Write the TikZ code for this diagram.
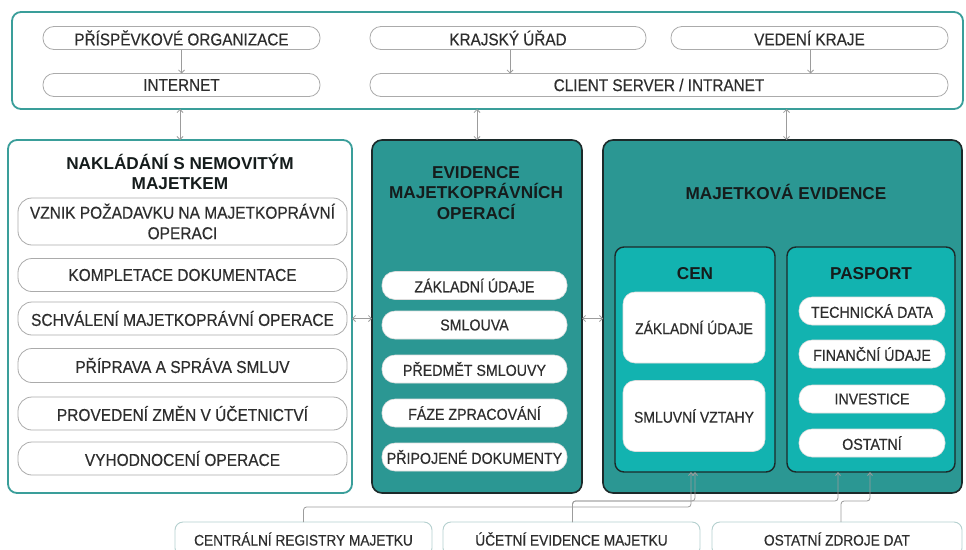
\documentclass[tikz,border=0pt]{standalone}
\usepackage{fontspec}
\setmainfont{Liberation Sans}[FakeStretch=0.9, FakeBold=0.4]
\newfontfamily\titlefont{Liberation Sans}
\usetikzlibrary{arrows.meta}
\definecolor{tealline}{HTML}{3A9E9A}
\definecolor{midteal}{HTML}{2B9793}
\definecolor{cyanteal}{HTML}{12B3B0}
\definecolor{darkline}{HTML}{1C2A2A}
\definecolor{pillgray}{HTML}{ABABAB}
\definecolor{srcline}{HTML}{B5D0CF}
\definecolor{txt}{HTML}{2E2E2E}
\definecolor{titletxt}{HTML}{151C1C}
\definecolor{arrgray}{HTML}{9C9C9C}
\begin{document}
\begin{tikzpicture}[x=1pt,y=-1pt,
  every node/.style={inner sep=0pt, outer sep=0pt},
  container/.style={draw=tealline, line width=1.8pt, rounded corners=9pt, fill=white},
  darkbox/.style={draw=darkline, line width=1.6pt, rounded corners=10pt, fill=midteal},
  subbox/.style={draw=darkline, line width=1.4pt, rounded corners=9pt, fill=cyanteal},
  toppill/.style={draw=pillgray, line width=0.8pt, rounded corners=11pt, fill=white, text=txt, font=\fontsize{17}{19}\selectfont, minimum height=23pt},
  leftpill/.style={draw=pillgray, line width=0.8pt, rounded corners=14pt, fill=white, text=txt, align=center, font=\fontsize{17.2}{20.5}\selectfont, minimum width=329pt},
  wpill/.style={draw=pillgray!40, line width=0.6pt, rounded corners=13pt, fill=white, text=txt, font=\fontsize{15.8}{18}\selectfont, minimum height=28pt},
  wbox/.style={draw=pillgray!40, line width=0.6pt, rounded corners=12pt, fill=white, text=txt, font=\fontsize{15.5}{18}\selectfont, minimum width=142pt, minimum height=71pt},
  srcbox/.style={draw=srcline, line width=0.9pt, rounded corners=8pt, fill=white, text=txt, font=\fontsize{15.2}{17}\selectfont, minimum height=34pt},
  boxtitle/.style={font=\titlefont\bfseries\fontsize{17.2}{20.5}\selectfont, text=titletxt, align=center},
  arr/.style={draw=arrgray, line width=0.8pt, -{Straight Barb[length=3pt,width=6pt]}},
  darr/.style={draw=arrgray, line width=0.8pt, {Straight Barb[length=3pt,width=6pt]}-{Straight Barb[length=3pt,width=6pt]}},
  bus/.style={draw=arrgray, line width=0.8pt, rounded corners=3pt, -{Straight Barb[length=3pt,width=5pt]}}
]
\useasboundingbox[fill=white] (0,0) rectangle (966,549);

% top container
\node[container, minimum width=951pt, minimum height=97pt] (top) at (487.5,60.5) {};
\node[toppill, minimum width=277pt] (po) at (181.5,38) {PŘÍSPĚVKOVÉ ORGANIZACE};
\node[toppill, minimum width=277pt] (internet) at (181.5,85) {INTERNET};
\node[toppill, minimum width=276pt] (kraj) at (508,38) {KRAJSKÝ ÚŘAD};
\node[toppill, minimum width=277pt] (vedeni) at (809.5,38) {VEDENÍ KRAJE};
\node[toppill, minimum width=578pt] (client) at (659,85) {CLIENT SERVER / INTRANET};

\draw[arr] (po) -- (internet);
\draw[arr] ([xshift=2pt]kraj.south) -- ([xshift=2pt]kraj.south |- client.north);
\draw[arr] ([xshift=1pt]vedeni.south) -- ([xshift=1pt]vedeni.south |- client.north);

% left box
\node[container, minimum width=344pt, minimum height=353pt] (left) at (180,316.5) {};
\node[boxtitle] (lefttitle) at (180,172) {NAKLÁDÁNÍ S NEMOVITÝM\\MAJETKEM};
\node[leftpill, minimum height=47pt] (vznik) at (182.5,221.5) {VZNIK POŽADAVKU NA MAJETKOPRÁVNÍ\\OPERACI};
\node[leftpill, minimum height=33pt] (kompl) at (182.5,275) {KOMPLETACE DOKUMENTACE};
\node[leftpill, minimum height=33pt] (schv) at (182.5,318.5) {SCHVÁLENÍ MAJETKOPRÁVNÍ OPERACE};
\node[leftpill, minimum height=34pt] (priprava) at (182.5,365.5) {PŘÍPRAVA A SPRÁVA SMLUV};
\node[leftpill, minimum height=33pt] (provedeni) at (182.5,413.5) {PROVEDENÍ ZMĚN V ÚČETNICTVÍ};
\node[leftpill, minimum height=33pt] (vyhod) at (182.5,458.5) {VYHODNOCENÍ OPERACE};

% middle box
\node[darkbox, minimum width=210pt, minimum height=353pt] (middle) at (477,316.5) {};
\node[boxtitle] (midtitle) at (476,193) {EVIDENCE\\MAJETKOPRÁVNÍCH\\OPERACÍ};
\node[wpill, minimum width=185pt] (zakl) at (474.5,285.5) {ZÁKLADNÍ ÚDAJE};
\node[wpill, minimum width=185pt] (smlouva) at (474.5,325) {SMLOUVA};
\node[wpill, minimum width=185pt] (predmet) at (474.5,369) {PŘEDMĚT SMLOUVY};
\node[wpill, minimum width=185pt] (faze) at (474.5,413) {FÁZE ZPRACOVÁNÍ};
\node[wpill, minimum width=185pt] (pripoj) at (474.5,457) {PŘIPOJENÉ DOKUMENTY};

% right box
\node[darkbox, minimum width=359pt, minimum height=353pt] (right) at (782.5,316.5) {};
\node[boxtitle] (righttitle) at (786,192) {MAJETKOVÁ EVIDENCE};
\node[subbox, minimum width=160pt, minimum height=225pt] (cen) at (695,359.5) {};
\node[boxtitle] (centitle) at (695,274) {CEN};
\node[wbox] (cenzakl) at (694,327.5) {ZÁKLADNÍ ÚDAJE};
\node[wbox] (cenvztahy) at (694,416) {SMLUVNÍ VZTAHY};
\node[subbox, minimum width=168pt, minimum height=225pt] (pasport) at (871,359.5) {};
\node[boxtitle] (pastitle) at (871,274) {PASPORT};
\node[wpill, minimum width=146pt] (tech) at (872,311) {TECHNICKÁ DATA};
\node[wpill, minimum width=146pt] (fin) at (872,354) {FINANČNÍ ÚDAJE};
\node[wpill, minimum width=146pt] (inv) at (872,399) {INVESTICE};
\node[wpill, minimum width=146pt] (ost) at (872,443) {OSTATNÍ};

% links between top and lower boxes
\draw[darr] (top.south -| left.north) -- (left.north);
\draw[darr] (top.south -| middle.north) -- (middle.north);
\draw[darr] ([xshift=4pt]top.south -| right.north) -- ([xshift=4pt]right.north);
\draw[darr] (left.east |- schv) -- (middle.west |- schv);
\draw[darr] (middle.east |- schv) -- (right.west |- schv);

% sources
\node[srcbox, minimum width=257pt] (central) at (303.5,539) {CENTRÁLNÍ REGISTRY MAJETKU};
\node[srcbox, minimum width=257pt] (ucetni) at (571.5,539) {ÚČETNÍ EVIDENCE MAJETKU};
\node[srcbox, minimum width=250pt] (ostatni) at (837,539) {OSTATNÍ ZDROJE DAT};

\coordinate (busA) at (0,507);
\coordinate (busB) at (0,501);
\draw[bus] (central.north) |- ([xshift=-4pt]cen.south |- busA) -- ([xshift=-4pt]cen.south);
\draw[bus] ([xshift=1pt]ucetni.north) |- (cen.south |- busB) -- (cen.south);
\draw[bus] ([xshift=1pt]ucetni.north) |- ([xshift=-33pt]pasport.south |- busB) -- ([xshift=-33pt]pasport.south);
\draw[bus] ([xshift=4pt]ostatni.north) |- ([xshift=-1pt]pasport.south |- busB) -- ([xshift=-1pt]pasport.south);
\end{tikzpicture}
\end{document}
